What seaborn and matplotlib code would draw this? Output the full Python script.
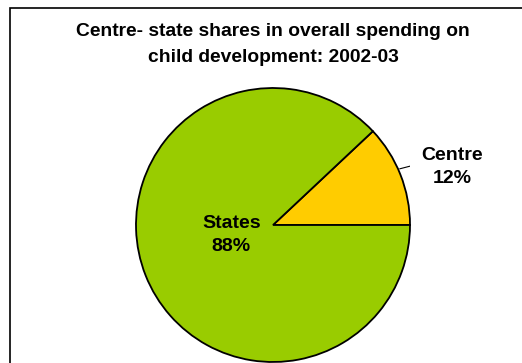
import matplotlib
matplotlib.use("Agg")
import matplotlib.pyplot as plt
import seaborn as sns
from matplotlib.patches import Rectangle

sns.set_theme(style="white")
plt.rcParams["font.family"] = ["Liberation Sans", "DejaVu Sans"]
plt.rcParams["text.color"] = "black"

# Shares of overall spending on child development, 2002-03
labels = ["Centre", "States"]
shares = [12, 88]
colors = ["#FFCC00", "#99CC00"]
title = "Centre- state shares in overall spending on\nchild development: 2002-03"

W, H = 522, 363
fig = plt.figure(figsize=(W / 100, H / 100), dpi=100)
fig.patch.set_facecolor("white")

# chart frame (runs off the right and bottom edges)
fig.patches.append(Rectangle((10 / W, -0.1), 1.2, 1 - 8 / H + 0.1,
                             transform=fig.transFigure, fill=False,
                             edgecolor="black", linewidth=1.2))

fig.text(273 / W, 1 - 44.5 / H, title, ha="center", va="center",
         fontsize=13.9, fontweight="bold", linespacing=1.7, color="black")

cx, cy, r = 273, 225, 137
ax = fig.add_axes([(cx - r) / W, (H - cy - r) / H, 2 * r / W, 2 * r / H])
wedges, _ = ax.pie(shares, colors=colors, startangle=0, counterclock=True,
                   radius=1.0,
                   wedgeprops=dict(edgecolor="black", linewidth=1.3))
ax.set_xlim(-1, 1)
ax.set_ylim(-1, 1)
ax.set_aspect("auto")
ax.axis("off")

# Centre label with leader line
ax.text(1.31, 0.425, f"{labels[0]}\n{shares[0]}%", ha="center", va="center",
        fontsize=14, fontweight="bold", linespacing=1.45, color="black")
ax.plot([0.925, 1.06], [0.41, 0.445], color="black", linewidth=0.8)

# States label inside the slice
ax.text(-0.305, -0.07, f"{labels[1]}\n{shares[1]}%", ha="center", va="center",
        fontsize=14, fontweight="bold", linespacing=1.45, color="black")

fig.savefig("out.png", dpi=100)
